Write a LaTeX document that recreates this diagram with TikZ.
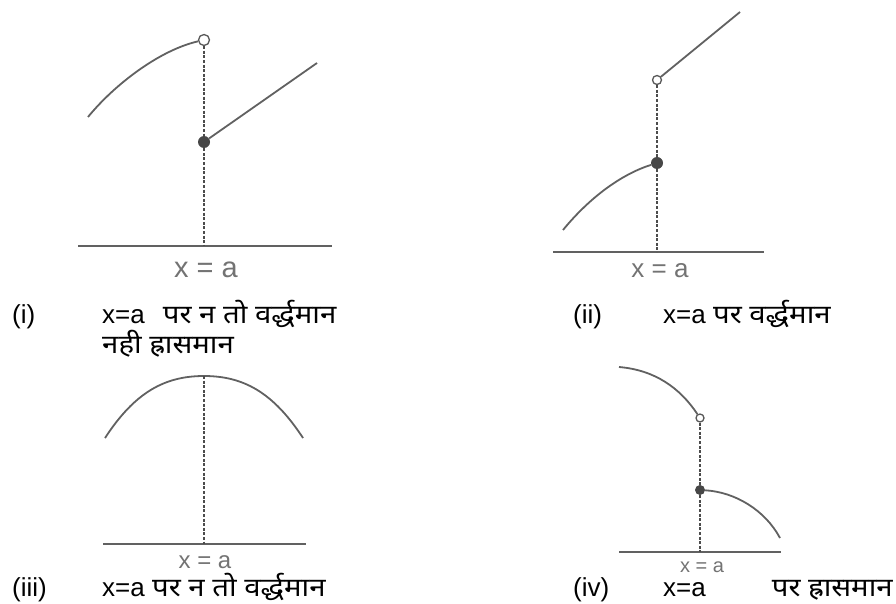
\documentclass[tikz,border=0pt]{standalone}
\usepackage{fontspec}
\setmainfont{Liberation Sans}
\newfontfamily\hindi[Script=Devanagari, FakeStretch=1.13]{Noto Sans}
\usetikzlibrary{positioning}

\begin{document}
\begin{tikzpicture}[x=1pt, y=-1pt,
  curve/.style={draw=black!62, line width=1.8pt},
  drop/.style={draw=black!70, line width=1.8pt, dash pattern=on 3pt off 1.6pt},
  axis/.style={draw=black!62, line width=2pt},
  opendot/.style={circle, draw=black!65, fill=white, line width=1.3pt, inner sep=0pt, minimum size=11pt},
  fulldot/.style={circle, fill=black!72, inner sep=0pt, minimum size=12pt},
  xlabel/.style={text=black!55, inner sep=0pt, anchor=base},
  caption/.style={anchor=base west, inner sep=0pt, font=\fontsize{26}{30}\selectfont}]
  \useasboundingbox (0,0) rectangle (896,604);

  \coordinate (i-start) at (88,117);
  \coordinate (i-end) at (317,63);
  \coordinate (i-foot) at (204,246);
  \node[opendot] (i-open) at (204,40) {};
  \node[fulldot] (i-full) at (204,142) {};
  \draw[axis] (78,246) coordinate (i-left) -- (332,246) coordinate (i-right);
  \draw[curve] (i-start) .. controls (115,84) and (160,50) .. (i-open);
  \draw[curve] (i-full) -- (i-end);
  \draw[drop] (i-open) -- (i-full);
  \draw[drop] (i-full) -- (i-foot);
  \node[xlabel, font=\fontsize{29}{30}\selectfont] (i-xa) at (206,277) {x = a};

  \coordinate (ii-start) at (563,230);
  \coordinate (ii-end) at (740,12);
  \coordinate (ii-foot) at (657,252);
  \node[opendot, minimum size=9pt] (ii-open) at (657,80) {};
  \node[fulldot] (ii-full) at (657,163) {};
  \draw[axis] (553,252) coordinate (ii-left) -- (764,252) coordinate (ii-right);
  \draw[curve] (ii-start) .. controls (590,197) and (622,174) .. (ii-full);
  \draw[curve] (ii-open) -- (ii-end);
  \draw[drop] (ii-open) -- (ii-full);
  \draw[drop] (ii-full) -- (ii-foot);
  \node[xlabel, font=\fontsize{26}{28}\selectfont] (ii-xa) at (660,277) {x = a};

  \coordinate (iii-start) at (105,438);
  \coordinate (iii-top) at (204,376);
  \coordinate (iii-end) at (303,438);
  \coordinate (iii-foot) at (204,544);
  \draw[axis] (103,544) coordinate (iii-left) -- (306,544) coordinate (iii-right);
  \draw[curve] (iii-start) .. controls (135,392) and (165,376) .. (iii-top)
    .. controls (243,376) and (273,392) .. (iii-end);
  \draw[drop] (iii-top) -- (iii-foot);
  \node[xlabel, font=\fontsize{24}{26}\selectfont] (iii-xa) at (205,568) {x = a};

  \coordinate (iv-start) at (619,367);
  \coordinate (iv-end) at (780,538);
  \coordinate (iv-foot) at (700,552);
  \node[opendot, minimum size=8pt] (iv-open) at (700,418) {};
  \node[fulldot, minimum size=10pt] (iv-full) at (700,490) {};
  \draw[axis] (619,552) coordinate (iv-left) -- (781,552) coordinate (iv-right);
  \draw[curve] (iv-start) .. controls (655,370) and (680,388) .. (iv-open);
  \draw[curve] (iv-full) .. controls (735,492) and (765,510) .. (iv-end);
  \draw[drop] (iv-open) -- (iv-full);
  \draw[drop] (iv-full) -- (iv-foot);
  \node[xlabel, font=\fontsize{20}{22}\selectfont] (iv-xa) at (702,572) {x = a};

  \node[caption] (cap-i) at (12,323) {(i)};
  \node[caption] (txt-i) at (102,323) {x=a\hspace{18pt}{\hindi पर न तो वर्द्धमान}};
  \node[caption] (txt-i2) at (102,353) {\hindi नही ह्रासमान};
  \node[caption] (cap-ii) at (573,323) {(ii)};
  \node[caption] (txt-ii) at (663,323) {x=a {\hindi पर वर्द्धमान}};
  \node[caption] (cap-iii) at (12,596) {(iii)};
  \node[caption] (txt-iii) at (102,596) {x=a {\hindi पर न तो वर्द्धमान}};
  \node[caption] (cap-iv) at (573,596) {(iv)};
  \node[caption] (txt-iv) at (663,596) {x=a\hspace{66pt}{\hindi पर ह्रासमान}};
\end{tikzpicture}
\end{document}
